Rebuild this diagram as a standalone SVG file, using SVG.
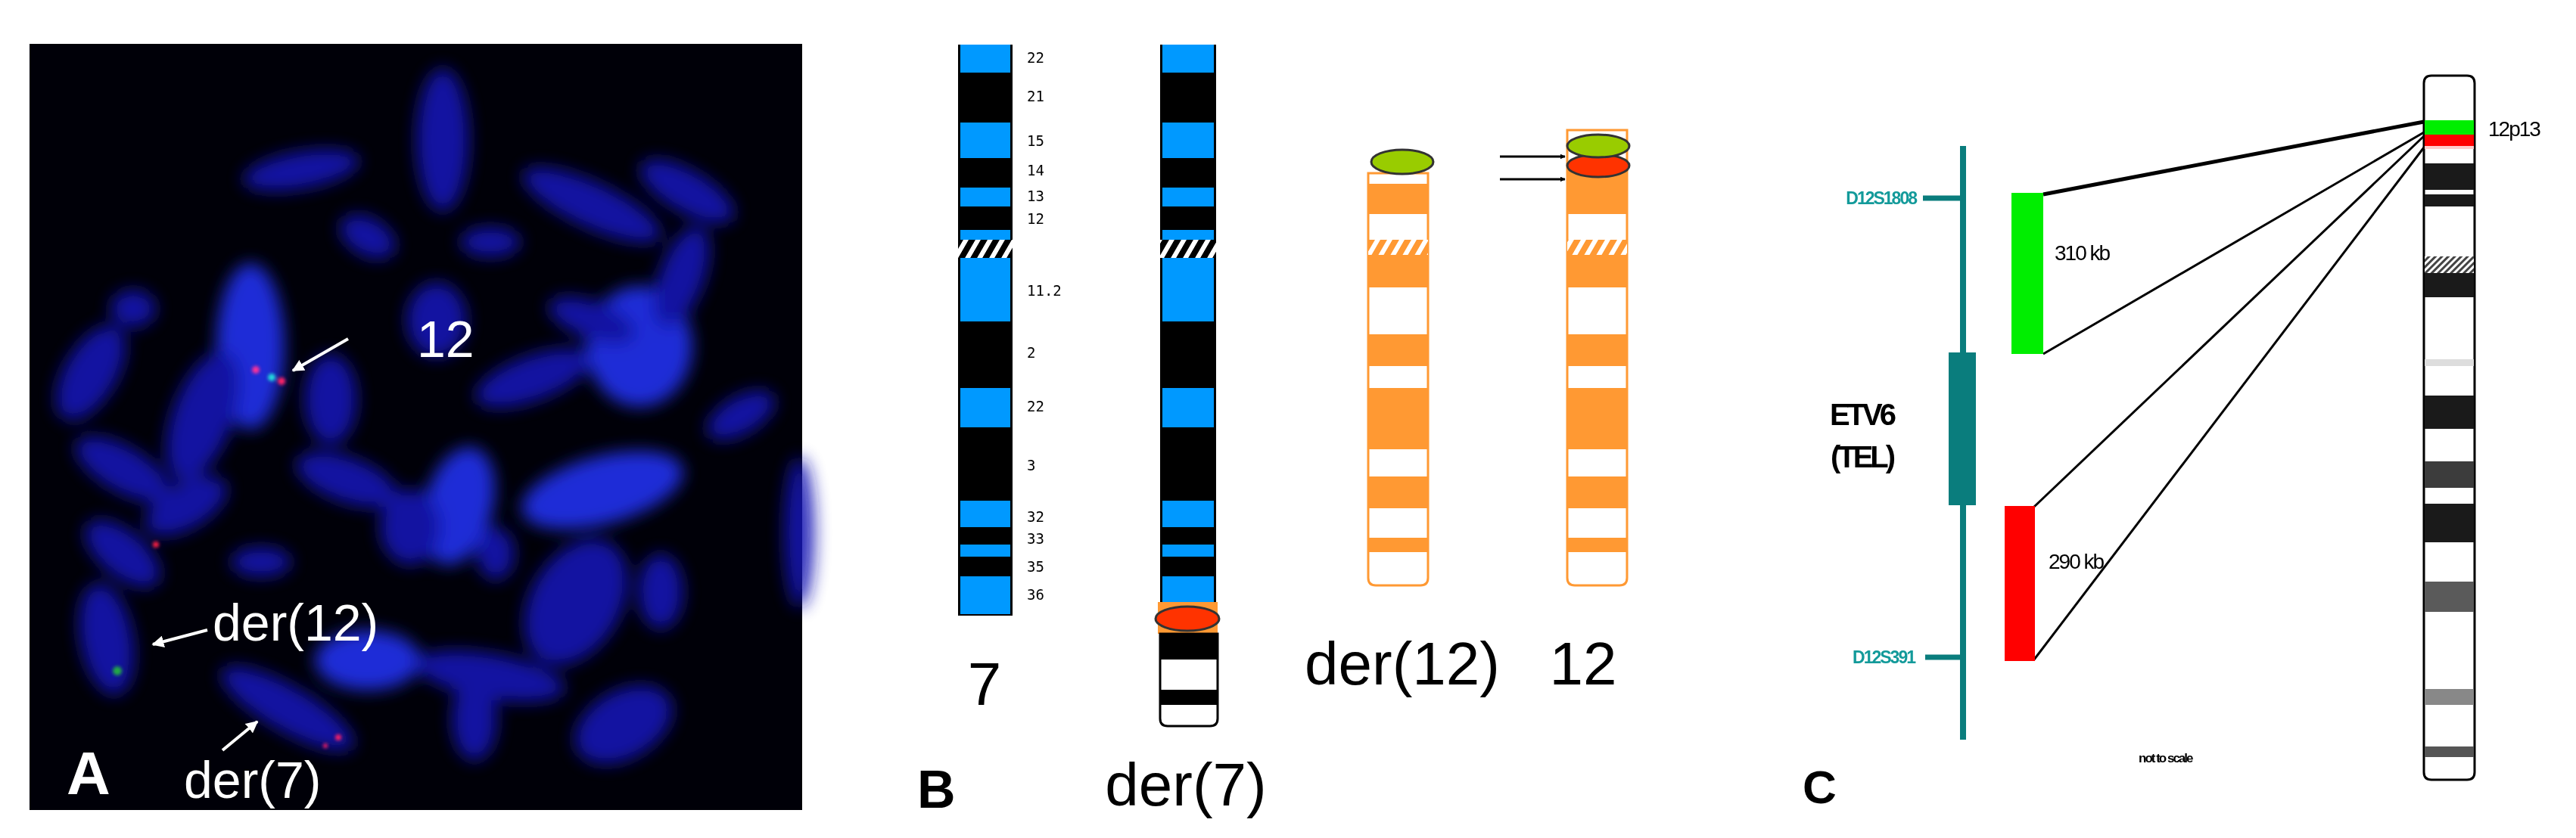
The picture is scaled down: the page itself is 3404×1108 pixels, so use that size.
<svg xmlns="http://www.w3.org/2000/svg" width="3404" height="1108" viewBox="0 0 3404 1108">
<style>
.lbl{font-family:"Liberation Sans",Arial,sans-serif}
.wt{fill:#fff;font-family:"Liberation Sans",Arial,sans-serif;font-size:68px}
.band{font-family:"DejaVu Sans Mono","Liberation Mono",monospace;font-size:19px;fill:#000}
.big{font-family:"Liberation Sans",Arial,sans-serif;font-size:80px;fill:#000}
.blu{fill:#0099ff}.blk{fill:#000}.or{fill:#ff9933}.wh{fill:#fff}
.tl{fill:#139a9a;font-family:"Liberation Sans",Arial,sans-serif;font-size:23px;font-weight:bold;letter-spacing:-2px}
.blob{fill:#1414b4}
</style>
<defs>
<filter id="bl" x="-50%" y="-50%" width="200%" height="200%"><feGaussianBlur stdDeviation="11"/></filter>
<filter id="bs" x="-100%" y="-100%" width="300%" height="300%"><feGaussianBlur stdDeviation="2"/></filter>
<pattern id="hk" width="16" height="24" patternUnits="userSpaceOnUse" patternTransform="skewX(-30)"><rect width="16" height="24" fill="#000"/><rect width="7" height="24" fill="#fff"/></pattern>
<pattern id="ho" width="16" height="24" patternUnits="userSpaceOnUse" patternTransform="skewX(-30)"><rect width="16" height="24" fill="#ff9933"/><rect width="7" height="24" fill="#fff"/></pattern>
<pattern id="hg" width="6" height="6" patternUnits="userSpaceOnUse" patternTransform="rotate(45)"><rect width="6" height="6" fill="#fff"/><rect width="3" height="6" fill="#444"/></pattern>
<marker id="aw" viewBox="0 0 10 10" refX="9" refY="5" markerWidth="4" markerHeight="4" orient="auto"><path d="M0,0L10,5L0,10z" fill="#fff"/></marker>
<marker id="ak" viewBox="0 0 10 10" refX="9" refY="5" markerWidth="7" markerHeight="7" orient="auto" markerUnits="userSpaceOnUse"><path d="M0,0L10,5L0,10z" fill="#000"/></marker>
</defs>
<rect width="3404" height="1108" fill="#fff"/>

<g id="panelA">
<rect x="39" y="58" width="1021" height="1013" fill="#000008"/>
<g filter="url(#bl)" class="blob" opacity="0.9">
<ellipse cx="398" cy="225" rx="78" ry="25" transform="rotate(-10 398 225)"/>
<ellipse cx="585" cy="185" rx="35" ry="95"/>
<ellipse cx="782" cy="271" rx="100" ry="30" transform="rotate(25 782 271)"/>
<ellipse cx="908" cy="253" rx="70" ry="28" transform="rotate(30 908 253)"/>
<ellipse cx="486" cy="313" rx="40" ry="25" transform="rotate(30 486 313)"/>
<ellipse cx="648" cy="320" rx="40" ry="20"/>
<ellipse cx="331" cy="458" rx="45" ry="110" fill="#2030f0"/>
<ellipse cx="268" cy="550" rx="40" ry="90" transform="rotate(20 268 550)"/>
<ellipse cx="120" cy="493" rx="35" ry="70" transform="rotate(30 120 493)"/>
<ellipse cx="176" cy="408" rx="30" ry="25"/>
<ellipse cx="437" cy="528" rx="35" ry="60"/>
<ellipse cx="577" cy="423" rx="40" ry="50"/>
<ellipse cx="704" cy="500" rx="80" ry="30" transform="rotate(-20 704 500)"/>
<ellipse cx="845" cy="458" rx="70" ry="80" fill="#2030f0"/>
<ellipse cx="901" cy="366" rx="30" ry="70" transform="rotate(20 901 366)"/>
<ellipse cx="782" cy="423" rx="60" ry="25" transform="rotate(20 782 423)"/>
<ellipse cx="979" cy="549" rx="50" ry="25" transform="rotate(-30 979 549)"/>
<ellipse cx="162" cy="620" rx="70" ry="30" transform="rotate(30 162 620)"/>
<ellipse cx="246" cy="669" rx="60" ry="30" transform="rotate(-30 246 669)"/>
<ellipse cx="458" cy="634" rx="70" ry="30" transform="rotate(20 458 634)"/>
<ellipse cx="606" cy="669" rx="45" ry="80" transform="rotate(15 606 669)" fill="#2030f0"/>
<ellipse cx="542" cy="697" rx="40" ry="50"/>
<ellipse cx="796" cy="648" rx="110" ry="45" transform="rotate(-15 796 648)" fill="#2030f0"/>
<ellipse cx="655" cy="732" rx="25" ry="35"/>
<ellipse cx="162" cy="732" rx="60" ry="30" transform="rotate(40 162 732)"/>
<ellipse cx="345" cy="743" rx="40" ry="20"/>
<ellipse cx="761" cy="796" rx="60" ry="90" transform="rotate(30 761 796)"/>
<ellipse cx="873" cy="782" rx="30" ry="50"/>
<ellipse cx="141" cy="845" rx="35" ry="75" transform="rotate(-10 141 845)"/>
<ellipse cx="486" cy="873" rx="70" ry="40" fill="#2030f0"/>
<ellipse cx="380" cy="937" rx="100" ry="30" transform="rotate(30 380 937)"/>
<ellipse cx="648" cy="894" rx="100" ry="30" transform="rotate(10 648 894)"/>
<ellipse cx="627" cy="951" rx="30" ry="55"/>
<ellipse cx="824" cy="958" rx="70" ry="45" transform="rotate(-30 824 958)"/>
<ellipse cx="1056" cy="704" rx="20" ry="100"/>
</g>
<g filter="url(#bs)">
<circle cx="338" cy="489" r="5" fill="#ff3399"/>
<circle cx="359" cy="499" r="5" fill="#22dddd"/>
<circle cx="372" cy="504" r="5" fill="#ff2266"/>
<circle cx="206" cy="720" r="4" fill="#ff2244"/>
<circle cx="155" cy="887" r="6" fill="#22aa44"/>
<circle cx="447" cy="975" r="4" fill="#ff2266"/>
<circle cx="430" cy="986" r="3" fill="#ff2266"/>
</g>
<g stroke="#fff" stroke-width="4" marker-end="url(#aw)">
<line x1="460" y1="448" x2="387" y2="490"/>
<line x1="274" y1="833" x2="202" y2="852"/>
<line x1="294" y1="992" x2="340" y2="954"/>
</g>
<text class="wt" x="551" y="472">12</text>
<text class="wt" x="281" y="847">der(12)</text>
<text class="wt" x="243" y="1055">der(7)</text>
<text class="lbl" x="88" y="1050" fill="#fff" font-size="80" font-weight="bold">A</text>
</g>

<g id="chr7">
<rect x="1266" y="59" width="72" height="755" fill="#000"/>
<rect class="blu" x="1269" y="59" width="66" height="37"/>
<rect class="blu" x="1269" y="162" width="66" height="47"/>
<rect class="blu" x="1269" y="248" width="66" height="25"/>
<rect class="blu" x="1269" y="304" width="66" height="13"/>
<rect x="1266" y="317" width="72" height="24" fill="url(#hk)"/>
<rect class="blu" x="1269" y="341" width="66" height="84"/>
<rect class="blu" x="1269" y="513" width="66" height="52"/>
<rect class="blu" x="1269" y="662" width="66" height="35"/>
<rect class="blu" x="1269" y="720" width="66" height="16"/>
<rect class="blu" x="1269" y="762" width="66" height="50"/>
<g class="band">
<text x="1357" y="83">22</text><text x="1357" y="134">21</text><text x="1357" y="193">15</text>
<text x="1357" y="232">14</text><text x="1357" y="266">13</text><text x="1357" y="296">12</text>
<text x="1357" y="391">11.2</text><text x="1357" y="473">2</text><text x="1357" y="544">22</text>
<text x="1357" y="622">3</text><text x="1357" y="690">32</text><text x="1357" y="719">33</text>
<text x="1357" y="756">35</text><text x="1357" y="793">36</text>
</g>
<text class="big" x="1301" y="932" text-anchor="middle">7</text>
</g>

<g id="der7">
<rect x="1533" y="59" width="74" height="737" fill="#000"/>
<rect class="blu" x="1536" y="59" width="68" height="37"/>
<rect class="blu" x="1536" y="162" width="68" height="47"/>
<rect class="blu" x="1536" y="248" width="68" height="25"/>
<rect class="blu" x="1536" y="304" width="68" height="13"/>
<rect x="1533" y="317" width="74" height="24" fill="url(#hk)"/>
<rect class="blu" x="1536" y="341" width="68" height="84"/>
<rect class="blu" x="1536" y="513" width="68" height="52"/>
<rect class="blu" x="1536" y="662" width="68" height="35"/>
<rect class="blu" x="1536" y="720" width="68" height="16"/>
<rect class="blu" x="1536" y="762" width="68" height="34"/>
<rect x="1530" y="796" width="79" height="42" fill="#ff9933"/>
<path d="M1533,838H1609V950Q1609,960 1599,960H1543Q1533,960 1533,950Z" fill="#fff" stroke="#000" stroke-width="3"/>
<rect x="1533" y="838" width="76" height="34" fill="#000"/>
<rect x="1533" y="912" width="76" height="20" fill="#000"/>
<ellipse cx="1569" cy="818" rx="42" ry="16" fill="#ff3300" stroke="#333" stroke-width="3"/>
<text class="big" x="1567" y="1065" text-anchor="middle">der(7)</text>
</g>

<g id="der12">
<path d="M1808,229H1887V764Q1887,774 1877,774H1818Q1808,774 1808,764Z" fill="#fff" stroke="#ff9933" stroke-width="3"/>
<rect class="or" x="1808" y="243" width="79" height="40"/>
<rect x="1808" y="317" width="79" height="20" fill="url(#ho)"/>
<rect class="or" x="1808" y="337" width="79" height="43"/>
<rect class="or" x="1808" y="442" width="79" height="42"/>
<rect class="or" x="1808" y="513" width="79" height="81"/>
<rect class="or" x="1808" y="630" width="79" height="42"/>
<rect class="or" x="1808" y="711" width="79" height="19"/>
<ellipse cx="1853" cy="214" rx="41" ry="16" fill="#99cc00" stroke="#333" stroke-width="3"/>
<text class="big" x="1853" y="905" text-anchor="middle">der(12)</text>
</g>

<g id="chr12">
<path d="M2071,172H2150V764Q2150,774 2140,774H2081Q2071,774 2071,764Z" fill="#fff" stroke="#ff9933" stroke-width="3"/>
<rect class="or" x="2071" y="225" width="79" height="58"/>
<rect x="2071" y="317" width="79" height="20" fill="url(#ho)"/>
<rect class="or" x="2071" y="337" width="79" height="43"/>
<rect class="or" x="2071" y="442" width="79" height="42"/>
<rect class="or" x="2071" y="513" width="79" height="81"/>
<rect class="or" x="2071" y="630" width="79" height="42"/>
<rect class="or" x="2071" y="711" width="79" height="19"/>
<ellipse cx="2112" cy="219" rx="41" ry="15" fill="#ff3300" stroke="#333" stroke-width="3"/>
<ellipse cx="2112" cy="193" rx="41" ry="15" fill="#99cc00" stroke="#333" stroke-width="3"/>
<text class="big" x="2092" y="905" text-anchor="middle">12</text>
</g>

<g id="connectors" stroke="#000">
<line x1="1982" y1="207" x2="2068" y2="207" stroke-width="3" marker-end="url(#ak)"/>
<line x1="1982" y1="237" x2="2068" y2="237" stroke-width="3" marker-end="url(#ak)"/>
<line x1="2700" y1="257" x2="3203" y2="161" stroke-width="5"/>
<line x1="2700" y1="468" x2="3203" y2="175" stroke-width="3"/>
<line x1="2688" y1="670" x2="3203" y2="180" stroke-width="3"/>
<line x1="2688" y1="872" x2="3203" y2="195" stroke-width="3"/>
</g>

<text id="labelB" class="lbl" x="1212" y="1068" font-size="70" font-weight="bold">B</text>

<g id="etv6">
<line x1="2594" y1="193" x2="2594" y2="978" stroke="#0a7d7d" stroke-width="8"/>
<line x1="2541" y1="262" x2="2594" y2="262" stroke="#0a7d7d" stroke-width="7"/>
<line x1="2544" y1="869" x2="2594" y2="869" stroke="#0a7d7d" stroke-width="7"/>
<rect x="2575" y="466" width="36" height="202" fill="#0a7d7d"/>
<text class="tl" x="2532" y="270" text-anchor="end">D12S1808</text>
<text class="tl" x="2530" y="877" text-anchor="end">D12S391</text>
<text class="lbl" x="2460" y="562" font-size="40" font-weight="bold" text-anchor="middle" letter-spacing="-4">ETV6</text>
<text class="lbl" x="2460" y="618" font-size="40" font-weight="bold" text-anchor="middle" letter-spacing="-4">(TEL)</text>
</g>
<g id="probes">
<rect x="2658" y="255" width="42" height="213" fill="#00ee00"/>
<rect x="2649" y="669" width="40" height="205" fill="#ff0000"/>
<text class="lbl" x="2715" y="344" font-size="28" letter-spacing="-2">310 kb</text>
<text class="lbl" x="2707" y="752" font-size="28" letter-spacing="-2">290 kb</text>
<text class="lbl" x="2826" y="1008" font-size="17" font-weight="bold" letter-spacing="-2">not to scale</text>
</g>
<g id="ideo12">
<path d="M3203,110Q3203,100 3213,100H3260Q3270,100 3270,110V1021Q3270,1031 3260,1031H3213Q3203,1031 3203,1021Z" fill="#fff" stroke="#000" stroke-width="3"/>
<rect x="3204" y="159" width="65" height="19" fill="#00ee00"/>
<rect x="3204" y="178" width="65" height="15" fill="#ff0000"/>
<rect x="3204" y="193" width="65" height="4" fill="#ffcccc"/>
<rect x="3204" y="216" width="65" height="35" fill="#1a1a1a"/>
<rect x="3204" y="257" width="65" height="16" fill="#1a1a1a"/>
<rect x="3204" y="339" width="65" height="22" fill="url(#hg)"/>
<rect x="3204" y="361" width="65" height="32" fill="#1a1a1a"/>
<rect x="3204" y="475" width="65" height="9" fill="#dddddd"/>
<rect x="3204" y="523" width="65" height="44" fill="#1a1a1a"/>
<rect x="3204" y="610" width="65" height="35" fill="#3c3c3c"/>
<rect x="3204" y="666" width="65" height="51" fill="#1a1a1a"/>
<rect x="3204" y="769" width="65" height="40" fill="#5a5a5a"/>
<rect x="3204" y="911" width="65" height="21" fill="#888"/>
<rect x="3204" y="987" width="65" height="14" fill="#555"/>
<text class="lbl" x="3288" y="180" font-size="28" letter-spacing="-2">12p13</text>
</g>
<text id="labelC" class="lbl" x="2382" y="1062" font-size="62" font-weight="bold">C</text>
</svg>
